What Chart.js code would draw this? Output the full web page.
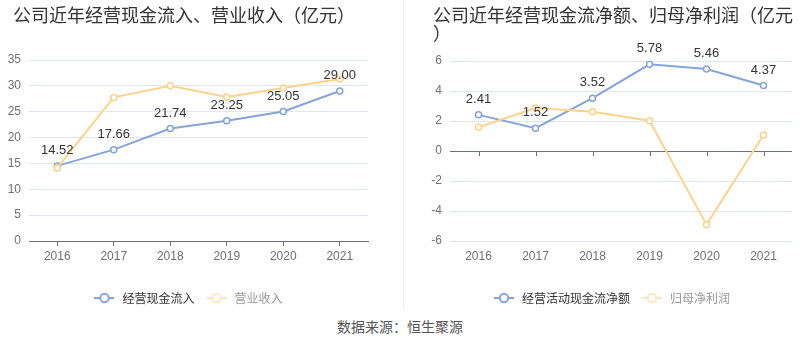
<!DOCTYPE html>
<html>
<head>
<meta charset="utf-8">
<script src="https://cdn.jsdelivr.net/npm/chart.js@4/dist/chart.umd.min.js"></script>
<style>
  html, body { margin: 0; padding: 0; background: #fff; }
  #wrap { position: relative; width: 800px; height: 358px; overflow: hidden; font-family: "Liberation Sans", "Noto Sans CJK SC", sans-serif; }
  .title { position: absolute; top: 5px; font-size: 18px; line-height: 18px; color: #333; white-space: nowrap; font-family: "Noto Sans CJK SC", sans-serif; }
  #t1 { left: 13px; }
  #t2 { left: 433px; }
  #divider { position: absolute; left: 403px; top: 0; width: 1px; height: 310px; background: #eeeeee; }
  #source { position: absolute; left: 0; width: 800px; top: 316px; text-align: center; font-size: 14px; color: #555; font-family: "Noto Sans CJK SC", sans-serif; }
  canvas { position: absolute; top: 0; }
  #c1 { left: 0; }
  #c2 { left: 400px; }
</style>
</head>
<body>
<div id="wrap">
  <canvas id="c1" width="400" height="314"></canvas>
  <canvas id="c2" width="400" height="314"></canvas>
  <div id="divider"></div>
  <div class="title" id="t1">公司近年经营现金流入、营业收入（亿元）</div>
  <div class="title" id="t2">公司近年经营现金流净额、归母净利润（亿元<br>）</div>
  <div id="source">数据来源：恒生聚源</div>
</div>
<script>
// ---- data ----
const years = ["2016", "2017", "2018", "2019", "2020", "2021"];
const cashInflow = [14.52, 17.66, 21.74, 23.25, 25.05, 29.00];
const revenue = [14.14, 27.77, 30.03, 27.83, 29.57, 31.32];
const netCashFlow = [2.41, 1.52, 3.52, 5.78, 5.46, 4.37];
const netProfit = [1.58, 2.87, 2.62, 2.02, -4.91, 1.07];
const leftNames = ["经营现金流入", "营业收入"];
const rightNames = ["经营活动现金流净额", "归母净利润"];
const leftTicks = { min: 0, max: 35, step: 5 };
const rightTicks = { min: -6, max: 6, step: 2 };

const BLUE = "#84a4da";
const ORANGE = "#fdd38c";
const ORANGE_FADED = "#fde6c0";
const AXIS = "#6e7079";
const GRID = "#e0e6f1";
const FONT = "'Liberation Sans', 'Noto Sans CJK SC', sans-serif";

function legendIcon(color) {
  const c = document.createElement("canvas");
  c.width = 20; c.height = 12;
  const g = c.getContext("2d");
  g.strokeStyle = color; g.lineWidth = 2;
  g.beginPath(); g.moveTo(0, 6); g.lineTo(20, 6); g.stroke();
  g.beginPath(); g.arc(10, 6, 4.2, 0, Math.PI * 2);
  g.fillStyle = "#fff"; g.fill(); g.stroke();
  return c;
}

const labelPlugin = {
  id: "valueLabels",
  afterDatasetsDraw(chart) {
    const meta = chart.getDatasetMeta(0);
    const data = chart.data.datasets[0].data;
    const ctx = chart.ctx;
    ctx.save();
    ctx.font = "13px " + FONT;
    ctx.fillStyle = "#333";
    ctx.textAlign = "center";
    ctx.textBaseline = "middle";
    meta.data.forEach((pt, i) => {
      ctx.fillText(data[i].toFixed(2), pt.x, pt.y - 15.5);
    });
    ctx.restore();
  }
};

const zeroTickPlugin = {
  id: "zeroTicks",
  afterDraw(chart, args, opts) {
    if (!opts || !opts.enabled) return;
    const xs = chart.scales.x, ys = chart.scales.y;
    const y0 = ys.getPixelForValue(0);
    const ctx = chart.ctx;
    ctx.save();
    ctx.strokeStyle = AXIS; ctx.lineWidth = 1;
    ctx.beginPath();
    for (let i = 0; i < xs.ticks.length; i++) {
      const x = Math.round(xs.getPixelForTick(i)) + 0.5;
      ctx.moveTo(x, y0); ctx.lineTo(x, y0 + 5);
    }
    ctx.stroke();
    ctx.restore();
  }
};

function makeChart(id, dataA, dataB, names, tk, areaLeft, padL, padR, areaTop, zeroTicks) {
  const iconA = legendIcon(BLUE);
  const iconB = legendIcon(ORANGE_FADED);
  return new Chart(document.getElementById(id), {
    type: "line",
    data: {
      labels: years,
      datasets: [
        { label: names[0], data: dataA, borderColor: BLUE, backgroundColor: "#fff",
          borderWidth: 2, pointRadius: 3, pointBorderWidth: 1.5, pointBackgroundColor: "#fff",
          pointBorderColor: BLUE, tension: 0, order: 1 },
        { label: names[1], data: dataB, borderColor: ORANGE, backgroundColor: "#fff",
          borderWidth: 2, pointRadius: 3, pointBorderWidth: 1.5, pointBackgroundColor: "#fff",
          pointBorderColor: ORANGE, tension: 0, order: 0 }
      ]
    },
    options: {
      responsive: false,
      animation: false,
      devicePixelRatio: 1,
      layout: { padding: { left: padL, right: padR, top: areaTop, bottom: 0 } },
      plugins: {
        title: { display: false },
        tooltip: { enabled: false },
        zeroTicks: { enabled: zeroTicks },
        legend: {
          display: true,
          position: "bottom",
          labels: {
            usePointStyle: true,
            pointStyleWidth: 24,
            boxHeight: 12,
            padding: 10,
            font: { size: 12, family: "'Noto Sans CJK SC', sans-serif" },
            generateLabels: () => [
              { text: names[0], fontColor: "#333", pointStyle: iconA, hidden: false,
                lineWidth: 0, strokeStyle: "rgba(0,0,0,0)", fillStyle: "rgba(0,0,0,0)", datasetIndex: 0 },
              { text: names[1], fontColor: "#999", pointStyle: iconB, hidden: false,
                lineWidth: 0, strokeStyle: "rgba(0,0,0,0)", fillStyle: "rgba(0,0,0,0)", datasetIndex: 1 }
            ]
          }
        }
      },
      scales: {
        x: {
          offset: true,
          border: { display: !zeroTicks, color: AXIS },
          grid: { display: true, drawOnChartArea: false, drawTicks: true, tickLength: 5, offset: false,
                  color: zeroTicks ? "rgba(0,0,0,0)" : AXIS },
          ticks: { color: AXIS, font: { size: 12, family: FONT }, padding: 3, maxRotation: 0 },
          afterFit(scale) { scale.height = 41; }
        },
        y: {
          min: tk.min, max: tk.max,
          border: { display: false },
          grid: { drawTicks: false, color: (c) => (c.tick && c.tick.value === 0 ? AXIS : GRID) },
          ticks: { stepSize: tk.step, color: AXIS, font: { size: 12, family: FONT }, padding: 8 },
          afterFit(scale) { scale.width = areaLeft - padL; }
        }
      }
    },
    plugins: [labelPlugin, zeroTickPlugin]
  });
}

makeChart("c1", cashInflow, revenue, leftNames, leftTicks, 29, 7, 32, 60, false);
makeChart("c2", netCashFlow, netProfit, rightNames, rightTicks, 50, 30, 8, 61, true);
</script>
</body>
</html>
